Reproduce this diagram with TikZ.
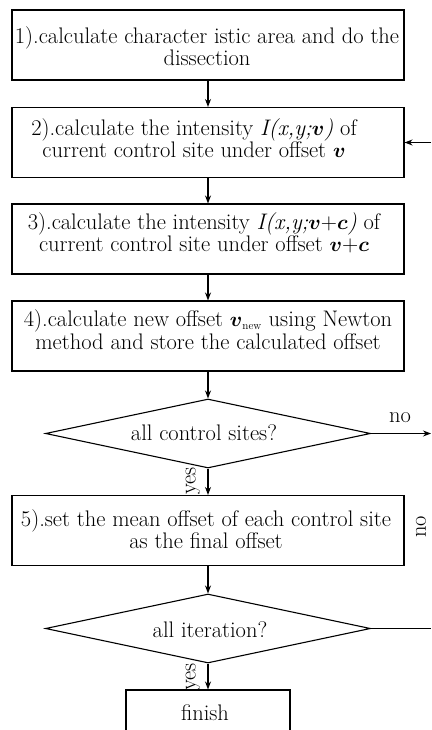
\documentclass[tikz,border=0pt]{standalone}
\usepackage{amsmath}
\usepackage{fontspec}
\usetikzlibrary{arrows.meta,shapes.geometric}
\newcommand{\bv}{$\boldsymbol{v}$}
\newcommand{\bc}{$\boldsymbol{c}$}
\begin{document}
\begin{tikzpicture}[x=1pt,y=1pt,
  font=\fontsize{22.5}{22}\selectfont,
  stepbox/.style={draw,line width=1.1pt,minimum width=392pt,minimum height=70pt,inner sep=0pt},
  txt/.style={align=center,inner sep=0pt},
  decide/.style={draw,diamond,aspect=4.71,line width=1.1pt,minimum width=325pt,minimum height=69pt,inner sep=0pt},
  arr/.style={line width=1.1pt,-{Stealth[length=8pt,width=6pt]}},
  ln/.style={line width=1.1pt},
  lab/.style={inner sep=0pt}]
\useasboundingbox (0,0) rectangle (431,-730);
\clip (0,0) rectangle (431,-730);
% boxes
\node[stepbox] (b1) at (208,-45) {};
\node[stepbox] (b2) at (208,-142.5) {};
\node[stepbox] (b3) at (208,-239) {};
\node[stepbox] (b4) at (208,-336) {};
\node[decide] (d1) at (208,-433.5) {};
\node[stepbox] (b5) at (208,-530.5) {};
\node[decide] (d2) at (208,-628.5) {};
\node[draw,line width=1.1pt,minimum width=164pt,minimum height=46pt,inner sep=0pt] (fin) at (208,-713) {};
% texts
\node[txt] (t1) at (207,-46) {1).calculate character istic area and do the\\dissection};
\node[txt] (t2) at (194,-138) {2).calculate the intensity \textit{I(x,y;}\bv\textit{)} of\\current control site under offset \bv};
\node[txt] (t3) at (204,-233) {3).calculate the intensity \textit{I(x,y;}\bv+\bc\textit{)} of\\current control site under offset \bv+\bc};
\node[txt] (t4) at (208,-330) {4).calculate new offset $\boldsymbol{v}_{\scriptscriptstyle\text{new}}$ using Newton\\[1pt]method and store the calculated offset};
\node[txt] (t5) at (206,-529.5) {5).set the mean offset of each control site\\as the final offset};
\node[txt] (td1) at (204,-433) {all control sites?};
\node[txt] (td2) at (210,-630) {all iteration?};
\node[txt] (tf) at (205,-713) {finish};
% connectors
\draw[arr] (b1.south) -- (b2.north);
\draw[arr] (b2.south) -- (b3.north);
\draw[arr] (b3.south) -- (b4.north);
\draw[arr] (b4.south) -- (d1.north);
\draw[arr] (d1.south) -- (b5.north);
\draw[arr] (b5.south) -- (d2.north);
\draw[arr] (d2.south) -- (fin.north);
\coordinate (e1) at (431,-433.5);
\coordinate (e2) at (431,-628.5);
\coordinate (e3) at (431,-142.5);
\draw[arr] (d1.east) -- (e1);
\draw[ln] (d2.east) -- (e2);
\draw[arr] (e3) -- (b2.east);
% labels
\node[lab] (no1) at (400,-418) {no};
\node[lab,rotate=90] (no2) at (421,-527) {no};
\node[lab,rotate=90] (yes1) at (193,-481) {yes};
\node[lab,rotate=90] (yes2) at (193,-677) {yes};
\end{tikzpicture}
\end{document}
